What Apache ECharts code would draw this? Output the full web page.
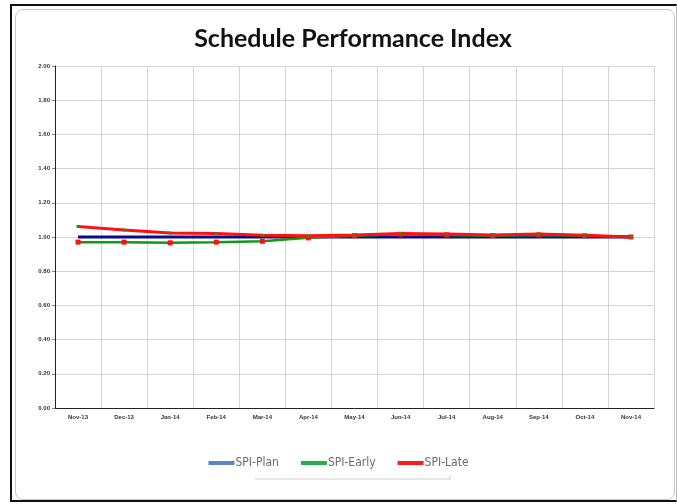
<!DOCTYPE html>
<html><head><meta charset="utf-8">
<script src="https://cdn.jsdelivr.net/npm/echarts@6/dist/echarts.min.js"></script>
<style>
html,body{margin:0;padding:0;background:#fff;}
#outer{position:absolute;left:10px;top:4px;width:667px;height:498px;border-left:2px solid #111;border-top:2px solid #111;border-bottom:2px solid #111;border-right:1px solid #bbb;box-sizing:border-box;}
#inner{position:absolute;left:15px;top:9px;width:660px;height:491px;border:1px solid #c8c8c8;border-radius:8px;box-sizing:border-box;}
#chart{position:absolute;left:0;top:0;width:677px;height:504px;}
</style></head>
<body>
<div id="outer"></div><div id="inner"></div>
<div id="chart"></div>
<script>
const categories = ['Nov-13','Dec-13','Jan-14','Feb-14','Mar-14','Apr-14','May-14','Jun-14','Jul-14','Aug-14','Sep-14','Oct-14','Nov-14'];
const spiPlan  = [1.00,1.00,1.00,1.00,1.00,1.00,1.00,1.00,1.00,1.00,1.00,1.00,1.00];
const spiEarly = [0.97,0.97,0.966,0.97,0.975,0.995,1.008,1.016,1.012,1.008,1.012,1.007,1.00];
const spiLate  = [1.062,1.041,1.023,1.02,1.01,1.008,1.012,1.02,1.017,1.012,1.017,1.01,1.00];
const yTicks = {min:0, max:2, interval:0.2};

const chart = echarts.init(document.getElementById('chart'), null, {renderer:'canvas'});
chart.setOption({
  animation:false,
  title:{text:'Schedule Performance Index', left:348, textAlign:'center', top:21,
    textStyle:{fontFamily:'Lato', fontWeight:'bold', fontSize:25, color:'#111'}},
  grid:{left:55, right:23, top:66, bottom:96},
  legend:{bottom:30, left:'center', itemWidth:26, itemHeight:4, itemGap:22,
    textStyle:{fontFamily:"'DejaVu Sans Condensed', 'Liberation Sans', sans-serif", fontSize:12, color:'#6b6b6b', padding:[0,0,0,-4]},
    data:[
      {name:'SPI-Plan', icon:'rect', itemStyle:{color:'#5b86c5'}},
      {name:'SPI-Early', icon:'rect', itemStyle:{color:'#22b14c'}},
      {name:'SPI-Late', icon:'rect', itemStyle:{color:'#ff1a1a'}}
    ]},
  xAxis:{type:'category', data:categories, boundaryGap:true,
    axisLine:{lineStyle:{color:'#222', width:1}},
    axisTick:{show:false},
    axisLabel:{fontSize:6, fontWeight:'bold', color:'#333', fontFamily:'Liberation Sans', margin:6},
    splitLine:{show:true, lineStyle:{color:'#d4d4d4', width:1}}},
  yAxis:{type:'value', min:yTicks.min, max:yTicks.max, interval:yTicks.interval,
    axisLine:{show:true, lineStyle:{color:'#222', width:1}},
    axisTick:{show:true, length:3, lineStyle:{color:'#888'}},
    axisLabel:{fontSize:6, fontWeight:'bold', color:'#333', fontFamily:'Liberation Sans', margin:5,
      formatter:v=>v.toFixed(2)},
    splitLine:{show:true, lineStyle:{color:'#d4d4d4', width:1}}},
  series:[
    {name:'SPI-Plan', type:'line', data:spiPlan, symbol:'none',
      lineStyle:{color:'#0a0a8c', width:3}, itemStyle:{color:'#0a0a8c'}},
    {name:'SPI-Early', type:'line', data:spiEarly, symbol:'rect', symbolSize:5,
      lineStyle:{color:'#119911', width:2.5}, itemStyle:{color:'#ff1111'}},
    {name:'SPI-Late', type:'line', data:spiLate, symbol:'rect', symbolSize:3,
      lineStyle:{color:'#ff1111', width:3}, itemStyle:{color:'#2a8a2a'}}
  ],
  graphic:[
    {type:'line', shape:{x1:255,y1:479,x2:450,y2:479}, style:{stroke:'#cfcfcf', lineWidth:1}},
    {type:'line', shape:{x1:450,y1:475,x2:450,y2:480}, style:{stroke:'#cfcfcf', lineWidth:1}}
  ]
});
</script>
</body></html>
